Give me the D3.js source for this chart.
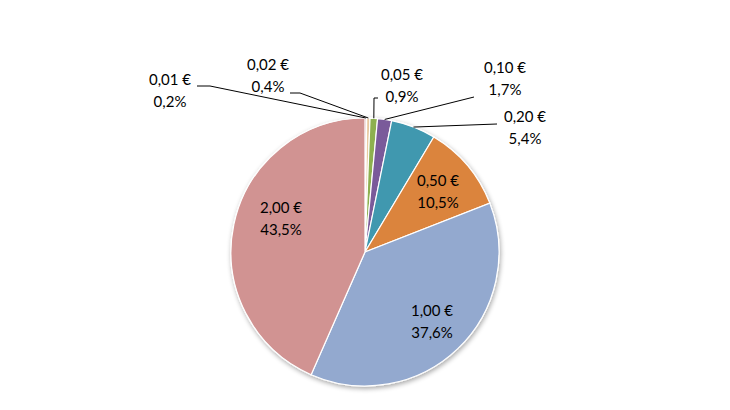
<!DOCTYPE html><html><head><script src="https://cdn.jsdelivr.net/npm/d3@7"></script>
<style>body{margin:0;background:#fff}text{font-family:Lato,"Open Sans",sans-serif;font-size:15px;fill:#000}</style></head><body>
<svg width="730" height="410"></svg>
<script>
const categories=["0,01 €","0,02 €","0,05 €","0,10 €","0,20 €","0,50 €","1,00 €","2,00 €"];
const values=[0.2,0.4,0.9,1.7,5.4,10.5,37.6,43.5];
const labels=["0,2%","0,4%","0,9%","1,7%","5,4%","10,5%","37,6%","43,5%"];
const colors=["#B0504E","#E8C9A0","#8DB04F","#7A5A9A","#4198AF","#DB843D","#93A9CF","#D19392"];
const labelPos=[[170,80],[268,65],[402,75],[505,68],[525,117],[438,181],[432,311],[281,208]];
const leaders=[[[197,86],[210,86]],[[290,93],[300,93]],[[378,98],[374,98]],[[474,97]],[[497,124]],null,null,null];
const svg=d3.select("svg"),cx=365,cy=252,r=134;
const data=categories.map((c,i)=>({c,v:values[i],l:labels[i],i}));
const arcs=d3.pie().value(d=>d.v).sort(null)(data);
const arc=d3.arc().innerRadius(0).outerRadius(r);
const defs=svg.append("defs");
const f=defs.append("filter").attr("id","sh").attr("x","-20%").attr("y","-20%").attr("width","140%").attr("height","140%");
f.append("feGaussianBlur").attr("in","SourceAlpha").attr("stdDeviation",2.5);
f.append("feOffset").attr("dx",1).attr("dy",2).attr("result","b");
f.append("feComponentTransfer").append("feFuncA").attr("type","linear").attr("slope",0.35);
const m=f.append("feMerge");m.append("feMergeNode");m.append("feMergeNode").attr("in","SourceGraphic");
const g=svg.append("g").attr("transform",`translate(${cx},${cy})`).attr("filter","url(#sh)");
g.selectAll("path").data(arcs).join("path").attr("d",arc).attr("fill",d=>colors[d.data.i]).attr("stroke","#fff").attr("stroke-width",1.2);
arcs.forEach((a,i)=>{
  const [x,y]=labelPos[i];
  const t=svg.append("text").attr("x",x).attr("y",y).attr("text-anchor","middle");
  t.append("tspan").attr("x",x).attr("dy","0.35em").text(categories[i]);
  t.append("tspan").attr("x",x).attr("dy","1.45em").text(labels[i]);
  if(leaders[i]){
    const ang=(a.startAngle+a.endAngle)/2;
    const end=[cx+Math.sin(ang)*r,cy-Math.cos(ang)*r];
    const pts=leaders[i].concat([end]);
    svg.append("path").attr("d",d3.line()(pts)).attr("fill","none").attr("stroke","#000").attr("stroke-width",1);
  }
});
</script></body></html>
